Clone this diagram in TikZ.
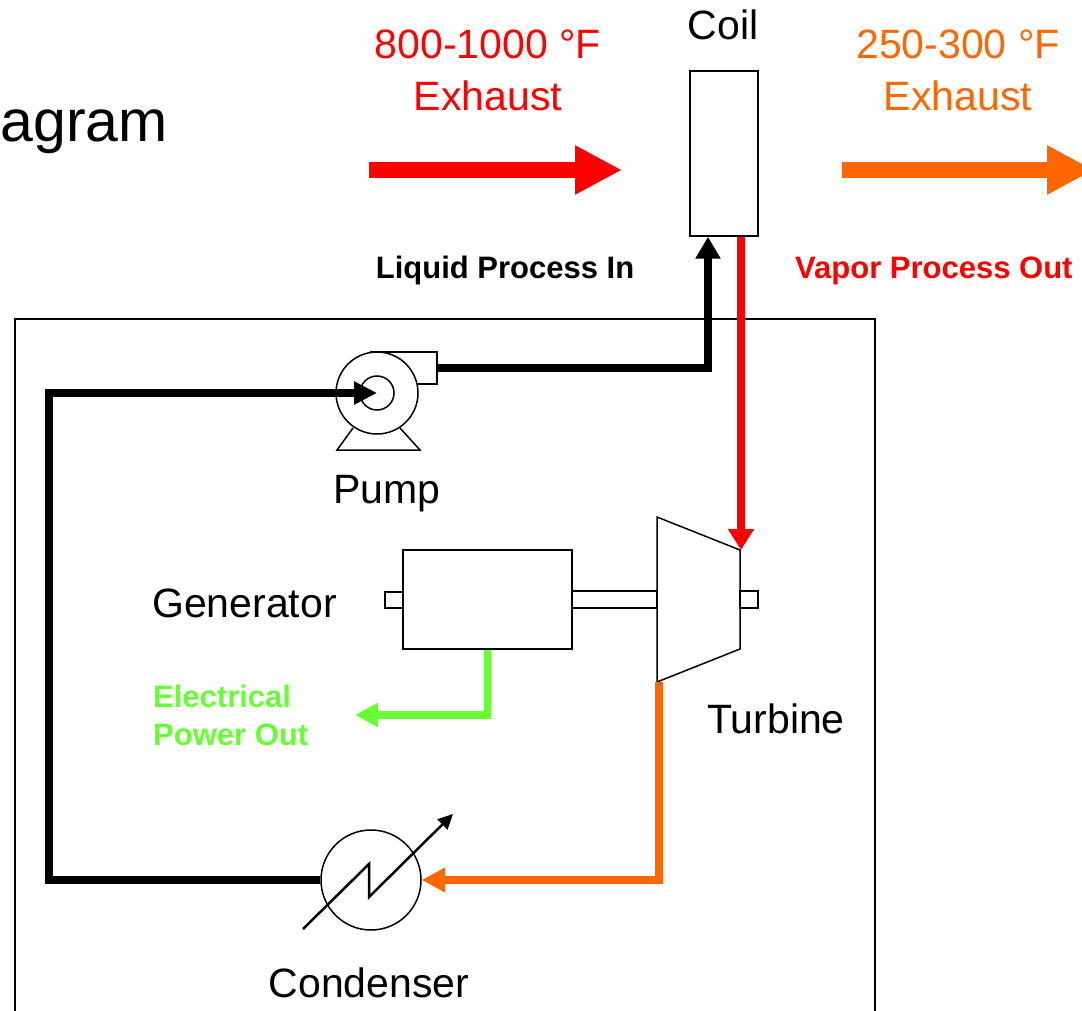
\documentclass[tikz,border=0pt]{standalone}
\usepackage{fontspec}
\setmainfont{Liberation Sans}
\usetikzlibrary{arrows.meta}
\definecolor{hot}{HTML}{FF0000}
\definecolor{warm}{HTML}{FF6600}
\definecolor{power}{HTML}{66FF33}

\begin{document}
\begin{tikzpicture}[x=1pt,y=-1pt,
    lbl/.style={inner sep=0pt,font=\fontsize{41}{52}\selectfont},
    blbl/.style={inner sep=0pt,font=\bfseries\fontsize{31}{38}\selectfont},
    unit/.style={draw,line width=1.5pt,inner sep=0pt},
    pipe/.style={line width=8pt},
    flow/.style={line width=16pt,-{Triangle[length=47pt,width=46pt]}}]
    \clip (0,0) rectangle (1082,1011);
    \draw[line width=1.5pt] (15,319) rectangle (875,1030);

    \node[lbl,anchor=base east,font=\fontsize{59}{70}\selectfont] (title) at (168,142) {agram};
    \node[lbl,anchor=north,align=center,text=hot] (hotlbl) at (488,30) {800-1000 °F\\Exhaust};
    \node[lbl,anchor=north,align=center,text=warm] (warmlbl) at (958,30) {250-300 °F\\Exhaust};
    \node[lbl,anchor=base] (coillbl) at (723,40) {Coil};
    \node[blbl,anchor=base] (inlbl) at (505,278) {Liquid Process In};
    \node[blbl,anchor=base west,text=hot] (outlbl) at (795,278) {Vapor Process Out};
    \node[lbl,anchor=base] (pumplbl) at (387,503) {Pump};
    \node[lbl,anchor=base east] (genlbl) at (337,617) {Generator};
    \node[lbl,anchor=base] (turlbl) at (776,733) {Turbine};
    \node[blbl,anchor=north west,align=left,text=power] (pwrlbl) at (153,685) {Electrical\\Power Out};
    \node[lbl,anchor=base] (condlbl) at (369,997) {Condenser};

    \node[unit,minimum width=68pt,minimum height=165pt] (coil) at (724,153.5) {};
    \node[unit,minimum width=169pt,minimum height=99pt] (gen) at (487.5,599.5) {};
    \node[unit,circle,minimum size=82pt] (pump) at (377,393) {};
    \node[unit,circle,minimum size=100pt] (cond) at (371,880) {};

    \draw[line width=1.5pt] (pump.center) circle (17pt);
    \draw[line width=1.5pt] (370,352) -- (437,352) -- (437,384) -- (418,384);
    \draw[line width=1.5pt] (353,428) -- (337,450) -- (420,450) -- (400,428);

    \coordinate (tur1) at (657,517);
    \coordinate (tur2) at (740,550);
    \coordinate (tur3) at (740,649);
    \coordinate (tur4) at (657,682);
    \draw[line width=1.5pt] (tur1) -- (tur2) -- (tur3) -- (tur4) -- cycle;
    \draw[line width=1.5pt] (572,591) rectangle (657,608);
    \draw[line width=1.5pt] (740,591) rectangle (758,608);
    \draw[line width=1.5pt] (385,592) rectangle (403,608);

    \draw[line width=2.5pt,-{Triangle[length=15pt,width=14pt]}] (cond.center) ++(-68,49) -- ++(66,-65) -- ++(0,33) -- ++(84,-83);

    \coordinate (hotin) at (369,170);
    \coordinate (hottip) at (622,170);
    \coordinate (warmin) at (842,170);
    \coordinate (warmtip) at (1094,170);
    \draw[flow,hot] (hotin) -- (hottip);
    \draw[flow,warm] (warmin) -- (warmtip);

    \coordinate (pumpout) at (437,368);
    \coordinate (pwrtip) at (355,715);
    \coordinate (loop) at (49,880);
    \draw[pipe,-{Triangle[length=22pt,width=24pt]}] (pumpout) -| ([xshift=-16pt]coil.south);
    \draw[pipe,hot,line width=7.5pt,-{Triangle[length=21pt,width=25pt]}] ([xshift=17pt]coil.south) -- ([xshift=17pt]coil.south |- tur2);
    \draw[pipe,power,line width=7.5pt,-{Triangle[length=23pt,width=23pt]}] (gen.south) |- (pwrtip);
    \draw[pipe,warm,line width=7.5pt,-{Triangle[length=23pt,width=23pt]}] ([xshift=2pt]tur4) |- (cond.east);
    \draw[pipe,-{Triangle[length=23pt,width=22pt]}] (cond.west) -- (loop) |- (pump.center);
\end{tikzpicture}
\end{document}
